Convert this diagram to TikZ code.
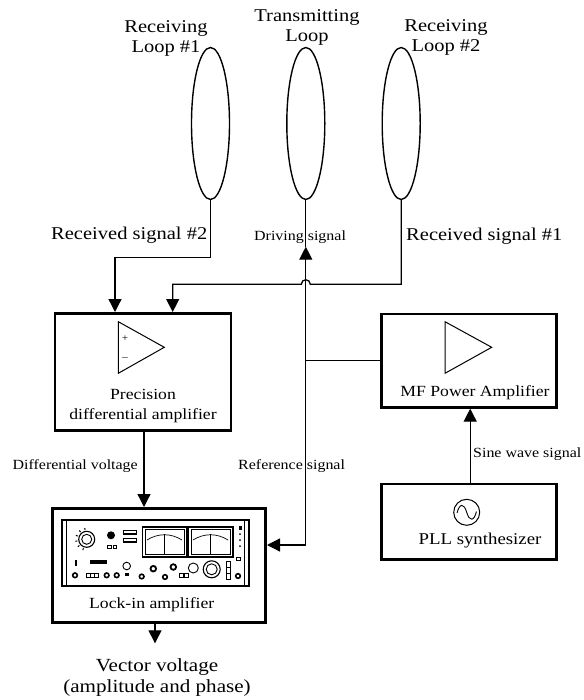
\documentclass[tikz,border=0pt]{standalone}
\usepackage{fontspec}
\setmainfont{Liberation Serif}[FakeStretch=1.14]
\usetikzlibrary{shapes.geometric,arrows.meta,calc}

\begin{document}
\begin{tikzpicture}[x=1pt,y=-1pt,
  wire/.style={line width=1.3pt},
  sig/.style={wire,-{Triangle[length=13pt,width=13pt]}},
  unit/.style={draw,line width=2.6pt,inner sep=0pt},
  loopcoil/.style={draw,ellipse,line width=1.4pt,minimum width=38pt,minimum height=152pt,inner sep=0pt},
  biglbl/.style={font=\fontsize{18}{20}\selectfont,inner sep=0pt,align=center},
  smalllbl/.style={font=\fontsize{14}{16}\selectfont,inner sep=0pt},
  boxlbl/.style={font=\fontsize{15.5}{20}\selectfont,inner sep=0pt,align=center},
  amp/.style={line width=1pt,line join=miter},
]
\useasboundingbox (0,0) rectangle (583,700);

% ---------- loops ----------
\node[loopcoil] (L1) at (210.5,123.5) {};
\node[loopcoil] (L2) at (305.8,123.5) {};
\node[loopcoil] (L3) at (401.2,123.5) {};

\node[biglbl] (t1) at (166,38.7) {Receiving\\Loop \#1};
\node[biglbl] (t2) at (307,27.5) {Transmitting\\Loop};
\node[biglbl] (t3) at (446,37.5) {Receiving\\Loop \#2};

% ---------- units ----------
\node[unit,minimum width=176pt,minimum height=117.4pt] (diff) at (143,372) {};
\node[unit,minimum width=175pt,minimum height=93.3pt] (mf) at (469.2,360.7) {};
\node[unit,minimum width=175pt,minimum height=75.3pt] (pll) at (469.2,521.7) {};
\node[unit,minimum width=213.4pt,minimum height=114pt] (lock) at (159,565.3) {};

\node[boxlbl] (difftxt) at (143,405.8) {Precision\\differential amplifier};
\node[boxlbl] (mftxt) at (475,393) {MF Power Amplifier};
\node[boxlbl,font=\fontsize{16.5}{20}\selectfont] (plltxt) at (480,540.7) {PLL synthesizer};
\node[boxlbl] (locktxt) at (151.7,604.5) {Lock-in amplifier};

% op-amp symbols
\draw[amp] (118.3,321.7) -- (118.3,373.3) -- (164.3,347.3) -- cycle;
\node[font=\fontsize{10}{10}\selectfont,inner sep=0pt] (plus) at (125,338.3) {+};
\node[font=\fontsize{10}{10}\selectfont,inner sep=0pt] (minus) at (125,359.3) {\textendash};
\draw[amp] (445,321.7) -- (445,373.3) -- (491.7,347.3) -- cycle;

% oscillator symbol
\draw[line width=1pt] (466.7,512.3) circle[radius=13];
\draw[line width=0.9pt] (457,513) .. controls (459.5,503) and (464,503) .. (466.7,512.3)
  .. controls (469.4,521.6) and (474,521.6) .. (476.4,511.6);

% lock-in front panel
\begin{scope}[line width=0.9pt]
  \draw[line width=1.8pt] (62,520) rectangle (249,586);
  \draw[line width=0.6pt] (66.5,521) -- (66.5,585);
  \draw[line width=0.6pt] (244.5,521) -- (244.5,585);
  % main dial
  \draw[line width=1.1pt] (86.7,539.3) circle[radius=8];
  \draw (86.7,539.3) circle[radius=5];
  \foreach \a in {110,140,170,200,230,260}
    \draw[line width=1pt] ($(86.7,539.3)+(\a:9.5)$) -- ($(86.7,539.3)+(\a:11.5)$);
  \fill (111,535.3) circle[radius=4];
  \draw[line width=0.7pt] (107.5,545) rectangle (111,548.5) (113,545) rectangle (116.5,548.5);
  \draw[line width=1.3pt] (123.5,530.5) rectangle (136.5,534);
  \draw[line width=1.3pt] (123.5,538.5) rectangle (136.5,542);
  % meters
  \foreach \dx in {0,46} {
    \draw[line width=1.2pt] (142.5+\dx,527) rectangle (187+\dx,557);
    \draw[line width=0.6pt] (145+\dx,529.5) rectangle (184.5+\dx,554.5);
    \draw[line width=0.7pt] (147+\dx,540) .. controls (158+\dx,533) and (171+\dx,533) .. (182+\dx,540);
    \draw[line width=0.7pt] (164+\dx,534) -- (164+\dx,554.5);
  }
  \fill (238.5,526) rectangle (241.5,530);
  \foreach \y in {534,540,546} \fill (240,\y) circle[radius=1];
  % lower controls
  \fill (74.5,560) rectangle (76.8,566);
  \fill (90,560) rectangle (106.7,564);
  \draw (126.7,566) circle[radius=3.8];
  \fill (124.5,572.5) rectangle (129,575.5);
  \foreach \p in {(75,575.3),(106.7,575.3),(116.7,575.3),(141.7,576.5),(165,577),(238,576)}
    \draw[line width=1.6pt] \p circle[radius=2.3];
  \foreach \p in {(153.3,568.7),(173.3,567)}
    \draw[line width=1.8pt] \p circle[radius=2.8];
  \draw[line width=1pt] (86,573) rectangle (98.5,577.5);
  \draw[line width=0.6pt] (90,573) -- (90,577.5) (94.3,573) -- (94.3,577.5);
  \draw[line width=0.8pt] (179.5,573) rectangle (183,577) (184.5,573) rectangle (188,577);
  \draw[line width=0.9pt] (193.3,568) circle[radius=5];
  \draw[line width=1.1pt] (211.7,569.3) circle[radius=8.5];
  \draw[line width=0.9pt] (211.7,569.3) circle[radius=5.5];
  \draw[line width=1.2pt] (226.5,561.5) rectangle (230.5,579.5);
  \draw[line width=0.6pt] (226.5,567.5) -- (230.5,567.5) (226.5,573.5) -- (230.5,573.5);
  \draw[line width=0.8pt] (236.5,557) rectangle (240,560.5);
\end{scope}

% ---------- signal labels ----------
\node[biglbl,anchor=east] (rs2) at (207.5,234.7) {Received signal \#2};
\node[smalllbl,anchor=west] (drvtxt) at (254,236.7) {Driving signal};
\node[biglbl,anchor=west] (rs1) at (406,236.3) {Received signal \#1};
\node[smalllbl,anchor=east] (dvtxt) at (138,466) {Differential voltage};
\node[smalllbl,anchor=west] (reftxt) at (238,466) {Reference signal};
\node[smalllbl,anchor=west] (sinetxt) at (473,454.5) {Sine wave signal};
\node[biglbl,font=\fontsize{18.5}{21.5}\selectfont] (vout) at (157,677.7) {Vector voltage\\(amplitude and phase)};

% ---------- connectors ----------
\coordinate (drv) at (305.8,246.7);
\coordinate (J) at (mf.west -| L2.south);
\coordinate (hop) at (305.8,284.3);
\coordinate (vend) at (155,643.3);

\draw[wire] (L2.south) -- (drv);
\draw[sig] (J) -- (drv);
\draw[wire] (mf.west) -- (J);
\draw[sig] (J) |- ([yshift=20.3pt]lock.east);

\draw[sig] (L1.south) -- ++(0,57.2) -| ([xshift=-28pt]diff.north);
\draw[sig] (L3.south) |- ([xshift=4.5pt]hop)
  .. controls +(0,-6) and +(0,-6) .. ([xshift=-4.5pt]hop)
  -| ([xshift=29.7pt]diff.north);

\draw[sig] ([xshift=1pt]diff.south) -- ([xshift=1pt]diff.south |- lock.north);
\draw[sig] ([xshift=1pt]pll.north) -- ([xshift=1pt]mf.south);
\draw[sig] (lock.south -| vend) -- (vend);
\end{tikzpicture}
\end{document}
